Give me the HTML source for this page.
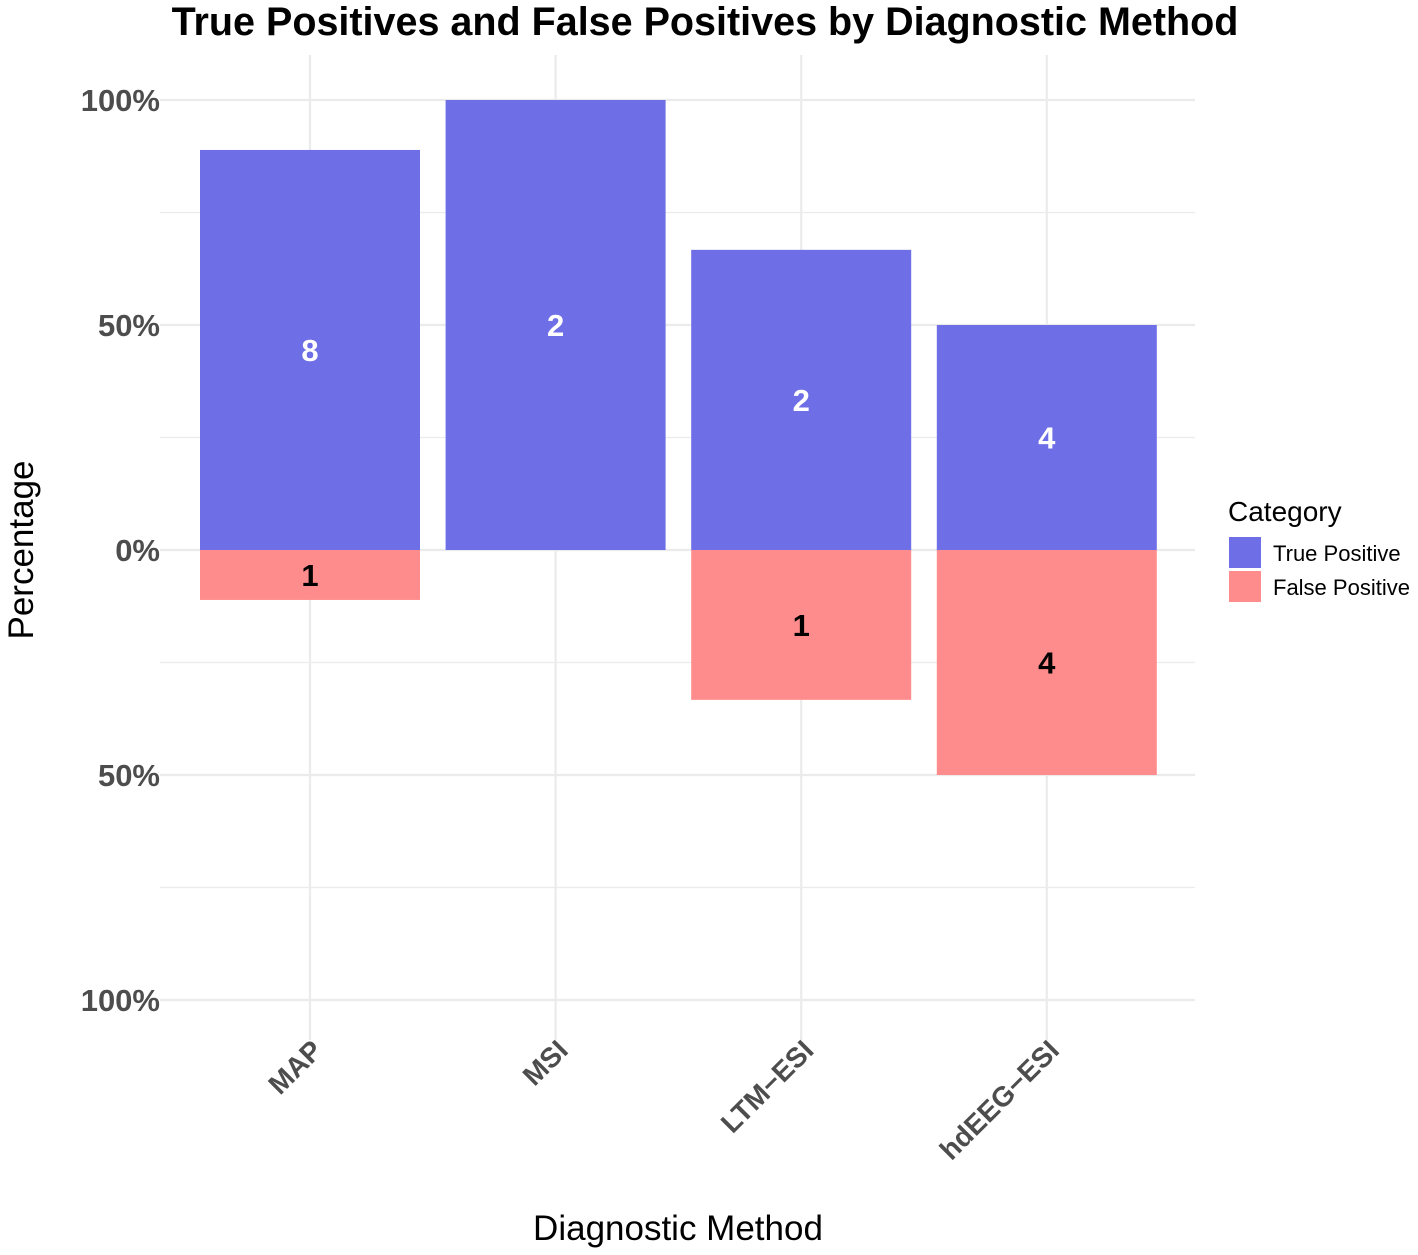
<!DOCTYPE html>
<html><head><meta charset="utf-8"><style>
body{margin:0;background:#fff;}
svg{display:block;font-family:"Liberation Sans",Arial,sans-serif;}
</style></head><body>
<svg id="chart" width="1418" height="1255" viewBox="0 0 1418 1255">
<text x="705" y="35" text-anchor="middle" font-size="39.5" font-weight="bold" fill="#000">True Positives and False Positives by Diagnostic Method</text>
<g id="grid"></g>
<g id="bars"></g>
<g id="labels"></g>
<g id="yticks"></g>
<g id="xticks"></g>
<text transform="translate(33,550) rotate(-90)" text-anchor="middle" font-size="35" fill="#000">Percentage</text>
<text x="678" y="1240" text-anchor="middle" font-size="35" fill="#000">Diagnostic Method</text>
<g>
<text x="1228" y="521" font-size="28" fill="#000">Category</text>
<rect x="1229" y="537" width="32" height="31" fill="#6E6EE6"/>
<text x="1273" y="561" font-size="22" fill="#000">True Positive</text>
<rect x="1229" y="571" width="32" height="31" fill="#FF8C8C"/>
<text x="1273" y="595" font-size="22" fill="#000">False Positive</text>
</g>
</svg>
<script>
const categories = ["MAP","MSI","LTM\u2212ESI","hdEEG\u2212ESI"];
const truePct = [88.9, 100, 66.7, 50];
const falsePct = [11.1, 0, 33.3, 50];
const trueCounts = ["8","2","2","4"];
const falseCounts = ["1","","1","4"];
const yTicks = [100, 50, 0, -50, -100];
const yTickLabels = ["100%","50%","0%","50%","100%"];
const NS = "http://www.w3.org/2000/svg";
const y = v => 550 - v * 4.5;
const x = i => 310 + i * 245.6;
const bw = 220;
function mk(tag, attrs, parent, txt){
  const e = document.createElementNS(NS, tag);
  for (const k in attrs) e.setAttribute(k, attrs[k]);
  if (txt !== undefined) e.textContent = txt;
  document.getElementById(parent).appendChild(e);
  return e;
}
for (let v = -100; v <= 100; v += 25) {
  const l = mk("line", {x1:160, x2:1195, y1:y(v), y2:y(v), stroke:"#ebebeb", "stroke-width": v%50===0 ? 2.2 : 1.2}, "grid");
  
  
}
categories.forEach((c, i) => {
  const l = mk("line", {x1:x(i), x2:x(i), y1:55, y2:1040, stroke:"#ebebeb", "stroke-width":2.2}, "grid");
  
  
});
categories.forEach((c, i) => {
  const t = mk("rect", {x:x(i)-bw/2, y:y(truePct[i]), width:bw, height:y(0)-y(truePct[i]), fill:"#6E6EE6"}, "bars");
  
  
  if (falsePct[i] > 0) {
    const f = mk("rect", {x:x(i)-bw/2, y:y(0), width:bw, height:y(-falsePct[i])-y(0), fill:"#FF8C8C"}, "bars");
    
    
  }
  const tl = mk("text", {x:x(i), y:y(truePct[i]/2)+11, "text-anchor":"middle", "font-size":31, "font-weight":"bold", fill:"#fff"}, "labels", trueCounts[i]);
  
  
  if (falseCounts[i]) {
    const fl = mk("text", {x:x(i), y:y(-falsePct[i]/2)+11, "text-anchor":"middle", "font-size":31, "font-weight":"bold", fill:"#000"}, "labels", falseCounts[i]);
    
    
  }
  const xl = mk("text", {transform:`translate(${x(i)+14},${1052}) rotate(-45)`, "text-anchor":"end", "font-size":28, "font-weight":"bold", fill:"#4d4d4d"}, "xticks", c);
  
  
});
yTicks.forEach((v, i) => {
  const t = mk("text", {x:160, y:y(v)+11, "text-anchor":"end", "font-size":31, "font-weight":"bold", fill:"#4d4d4d"}, "yticks", yTickLabels[i]);
  
  
});
</script>
</body></html>
